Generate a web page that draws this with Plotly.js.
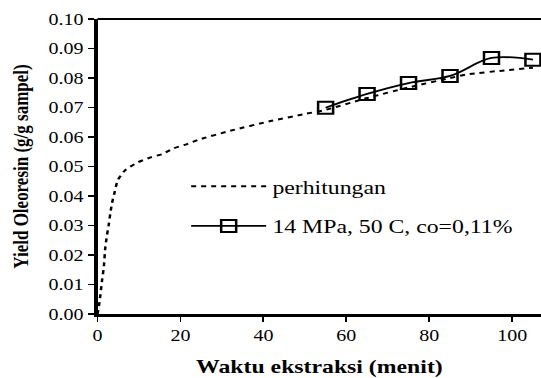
<!DOCTYPE html>
<html>
<head>
<meta charset="utf-8">
<script src="https://cdn.plot.ly/plotly-3.0.1.min.js"></script>
<style>
html,body{margin:0;padding:0;background:#fff;overflow:hidden;}
#wrap{width:541px;height:378px;overflow:hidden;}
#chart{width:433px;height:378px;transform:scaleX(1.25);transform-origin:0 0;}
</style>
</head>
<body>
<div id="wrap"><div id="chart"></div></div>
<script>
// "perhitungan" (calculated) curve
const calcX = [0, 0.5, 1.1, 1.5, 1.9, 2.3, 2.7, 3.1, 3.5, 4.1, 4.9, 6.7, 9.6, 12.8, 15.6, 18.4, 21.6, 24.2, 32, 42, 50, 55, 65, 75, 85, 89, 99, 105];
const calcY = [0.0, 0.0042, 0.0115, 0.0156, 0.0228, 0.0268, 0.0302, 0.0342, 0.0376, 0.0411, 0.0454, 0.0488, 0.0513, 0.0531, 0.0542, 0.0562, 0.0576, 0.059, 0.0621, 0.0655, 0.0678, 0.0692, 0.0732, 0.0768, 0.0800, 0.0812, 0.0827, 0.0835];
// experimental: 14 MPa, 50 C, co=0,11%
const expX = [55, 65, 75, 85, 95, 105];
const expY = [0.0699, 0.0746, 0.0783, 0.0807, 0.0868, 0.0862];
const xTicks = [0, 20, 40, 60, 80, 100];
const yTicks = [0, 0.01, 0.02, 0.03, 0.04, 0.05, 0.06, 0.07, 0.08, 0.09, 0.10];

const serif = '"Liberation Serif", "Times New Roman", serif';
const traces = [
  {x: calcX, y: calcY, mode: 'lines', name: 'perhitungan', legendgroup: 'a',
   line: {color: '#000', width: 2, dash: '4px,4px', shape: 'spline', smoothing: 0.6}},
  {x: expX, y: expY, mode: 'lines+markers', name: '14 MPa, 50 C, co=0,11%', legendgroup: 'b',
   line: {color: '#000', width: 1.8, shape: 'spline', smoothing: 1},
   marker: {symbol: 'square-open', size: 12, color: '#000', line: {width: 2, color: '#000'}}}
];
const layout = {
  width: 433, height: 378,
  margin: {l: 78, r: 0, t: 19, b: 64},
  paper_bgcolor: '#fff', plot_bgcolor: '#fff',
  font: {family: serif, size: 16, color: '#000'},
  showlegend: true,
  legend: {x: 0.197, y: 0.497, xanchor: 'left', yanchor: 'top', bgcolor: 'rgba(0,0,0,0)',
           font: {family: serif, size: 19, color: '#000'}, itemwidth: 60, tracegroupgap: 12, traceorder: 'grouped'},
  xaxis: {range: [0, 107], tickvals: xTicks, ticktext: xTicks.map(String), showgrid: false, zeroline: false,
          showline: true, linecolor: '#000', linewidth: 2.5, ticks: 'outside', ticklen: 5, tickwidth: 1.5, tickcolor: '#000',
          tickfont: {family: serif, size: 16}, title: {text: '<b>Waktu ekstraksi (menit)</b>', font: {family: serif, size: 19}, standoff: 17}},
  yaxis: {range: [0, 0.1], tickvals: yTicks, tickformat: '.2f', showgrid: false, zeroline: false,
          showline: true, linecolor: '#000', linewidth: 3, ticks: 'outside', ticklen: 5, tickwidth: 1.5, tickcolor: '#000',
          tickfont: {family: serif, size: 16}, title: {text: '<b>Yield Oleoresin (g/g sampel)</b>', font: {family: serif, size: 17}, standoff: 12}},
  shapes: [{type: 'line', xref: 'paper', yref: 'paper', x0: 0, x1: 1, y0: 1, y1: 1, line: {color: '#000', width: 2}}]
};
Plotly.newPlot('chart', traces, layout, {displayModeBar: false, staticPlot: true});
</script>
</body>
</html>
